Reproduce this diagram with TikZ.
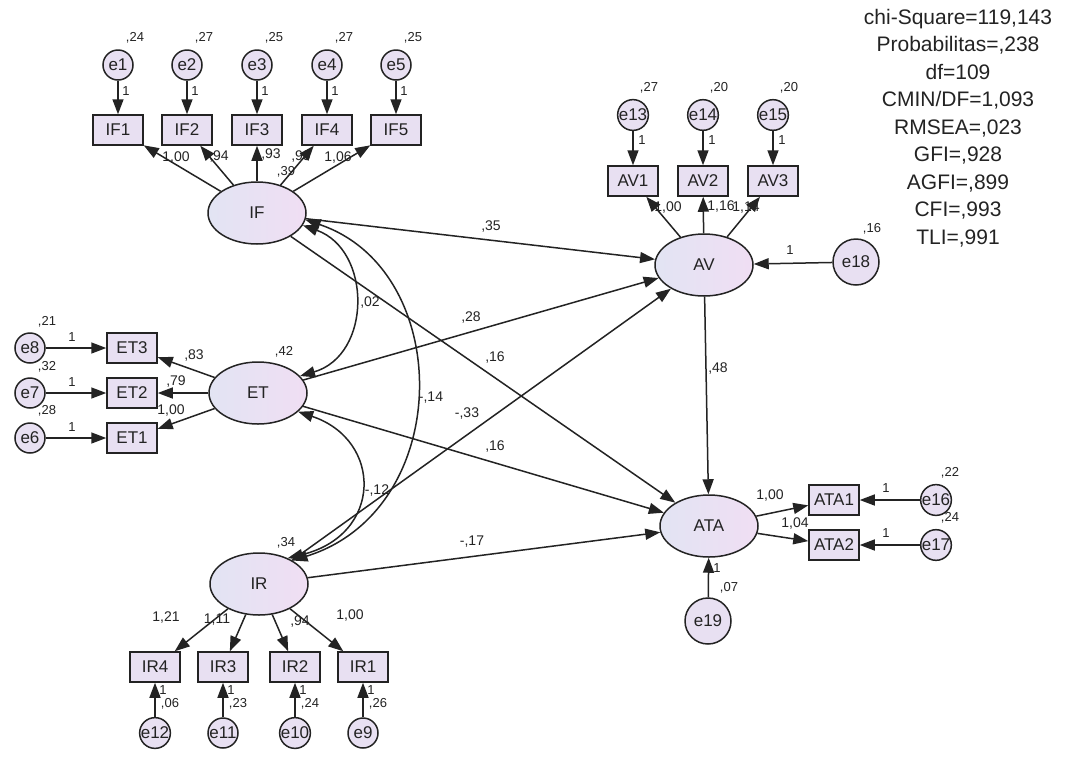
\documentclass[tikz,border=0pt]{standalone}
\usepackage{fontspec}
\setmainfont{Liberation Sans}
\usetikzlibrary{arrows.meta,shapes.geometric}
\definecolor{boxfill}{RGB}{232,224,242}
\definecolor{ellA}{RGB}{226,228,243}
\definecolor{ellB}{RGB}{240,222,243}
\definecolor{ink}{RGB}{35,35,35}
\begin{document}
\begin{tikzpicture}[x=1pt,y=-1pt,
  lat/.style={ellipse, draw=ink, line width=1.5pt, minimum width=98pt, minimum height=62pt, left color=ellA, right color=ellB, font=\fontsize{17}{17}\selectfont, text=ink, inner sep=0},
  obs/.style={rectangle, draw=ink, line width=1.5pt, fill=boxfill, minimum width=50pt, minimum height=30pt, inner sep=0, font=\fontsize{17}{17}\selectfont, text=ink},
  err/.style={circle, draw=ink, line width=1.5pt, fill=boxfill, minimum size=30pt, inner sep=0, font=\fontsize{17}{17}\selectfont, text=ink},
  bigerr/.style={err, minimum size=46pt},
  arr/.style={draw=ink, line width=1.5pt, -{Triangle[length=15pt,width=11pt]}},
  cov/.style={draw=ink, line width=1.5pt, {Triangle[length=15pt,width=11pt]}-{Triangle[length=15pt,width=11pt]}},
  lbl/.style={font=\fontsize{13}{13}\selectfont, text=ink, inner sep=0},
  plbl/.style={font=\fontsize{14}{14}\selectfont, text=ink, inner sep=0},
]
\fill[white] (0,0) rectangle (1068,756);
\useasboundingbox (0,0) rectangle (1068,756);

% latent variables
\node[lat] (IF) at (257,213) {IF};
\node[lat] (ET) at (258,393) {ET};
\node[lat] (IR) at (259,584) {IR};
\node[lat] (AV) at (704,265) {AV};
\node[lat] (ATA) at (709,526) {ATA};

% IF indicators
\foreach \n/\x/\e/\v in {1/118/e1/{,24}, 2/187/e2/{,27}, 3/257/e3/{,25}, 4/327/e4/{,27}, 5/396/e5/{,25}}{
  \node[obs] (IF\n) at (\x,130) {IF\n};
  \node[err] (\e) at (\x,65) {\e};
  \node[lbl] (v\e) at (\x+17,38) {\v};
  \node[lbl] (o\e) at (\x+8,91) {1};
  \draw[arr] (\e) -- (IF\n);
  \draw[arr] (IF) -- (IF\n);
}
% AV indicators
\foreach \n/\x/\e/\v in {1/633/e13/{,27}, 2/703/e14/{,20}, 3/773/e15/{,20}}{
  \node[obs] (AV\n) at (\x,181) {AV\n};
  \node[err] (\e) at (\x,115) {\e};
  \node[lbl] (v\e) at (\x+16,88) {\v};
  \node[lbl] (o\e) at (\x+9,140) {1};
  \draw[arr] (\e) -- (AV\n);
  \draw[arr] (AV) -- (AV\n);
}
% ET indicators
\foreach \n/\y/\e/\v/\vy in {3/348/e8/{,21}/322, 2/393/e7/{,32}/367, 1/438/e6/{,28}/411}{
  \node[obs] (ET\n) at (132,\y) {ET\n};
  \node[err] (\e) at (30,\y) {\e};
  \node[lbl] (v\e) at (47,\vy) {\v};
  \node[lbl] (o\e) at (72,\y-11) {1};
  \draw[arr] (\e) -- (ET\n);
  \draw[arr] (ET) -- (ET\n);
}
% IR indicators
\foreach \n/\x/\e/\v in {4/155/e12/{,06}, 3/223/e11/{,23}, 2/295/e10/{,24}, 1/363/e9/{,26}}{
  \node[obs] (IR\n) at (\x,667) {IR\n};
  \node[err] (\e) at (\x,733) {\e};
  \node[lbl] (v\e) at (\x+15,704) {\v};
  \node[lbl] (o\e) at (\x+8,690) {1};
  \draw[arr] (\e) -- (IR\n);
  \draw[arr] (IR) -- (IR\n);
}
% ATA indicators
\foreach \n/\y/\e/\v in {1/500/e16/{,22}, 2/545/e17/{,24}}{
  \node[obs] (ATA\n) at (834,\y) {ATA\n};
  \node[err] (\e) at (936,\y) {\e};
  \node[lbl] (v\e) at (950,\y-27) {\v};
  \node[lbl] (o\e) at (886,\y-12) {1};
  \draw[arr] (\e) -- (ATA\n);
  \draw[arr] (ATA) -- (ATA\n);
}
% disturbances
\node[bigerr] (e18) at (856,262) {e18};
\node[bigerr] (e19) at (708,621) {e19};
\draw[arr] (e18) -- (AV);
\draw[arr] (e19) -- (ATA);

% structural paths
\draw[arr] (IF) -- (AV);
\draw[arr] (ET) -- (AV);
\draw[arr] (IR) -- (AV);
\draw[arr] (IF) -- (ATA);
\draw[arr] (ET) -- (ATA);
\draw[arr] (IR) -- (ATA);
\draw[arr] (AV) -- (ATA);

% covariances
\draw[cov] (IF.-15) .. controls (372,250) and (372,355) .. (ET.22);
\draw[cov] (IF.-8) .. controls (455,270) and (455,510) .. (IR.35);
\draw[cov] (ET.-25) .. controls (383,440) and (383,535) .. (IR.42);

% loadings and estimates
\node[plbl] (lIF1) at (176,158) {1,00};
\node[plbl] (lIF2) at (219,157) {,94};
\node[plbl] (lIF3) at (271,155) {,93};
\node[plbl] (lIF4) at (301,157) {,99};
\node[plbl] (lIF5) at (338,158) {1,06};
\node[lbl] (vIF) at (286,172) {,39};
\node[plbl] (lAV1) at (668,208) {1,00};
\node[plbl] (lAV2) at (721,207) {1,16};
\node[plbl] (lAV3) at (746,208) {1,14};
\node[lbl] (ve18) at (872,229) {,16};
\node[lbl] (oe18) at (790,250) {1};
\node[plbl] (lET3) at (194,355) {,83};
\node[plbl] (lET2) at (176,381) {,79};
\node[plbl] (lET1) at (171,410) {1,00};
\node[lbl] (vET) at (284,352) {,42};
\node[plbl] (lIR4) at (166,617) {1,21};
\node[plbl] (lIR3) at (217,620) {1,11};
\node[plbl] (lIR2) at (300,621) {,94};
\node[plbl] (lIR1) at (350,615) {1,00};
\node[lbl] (vIR) at (286,543) {,34};
\node[plbl] (lATA1) at (770,495) {1,00};
\node[plbl] (lATA2) at (795,523) {1,04};
\node[lbl] (ve19) at (729,588) {,07};
\node[lbl] (oe19) at (717,568) {1};
\node[plbl] (pIFAV) at (491,227) {,35};
\node[plbl] (cIFET) at (370,303) {,02};
\node[plbl] (pETAV) at (471,317) {,28};
\node[plbl] (pIFATA) at (495,357) {,16};
\node[plbl] (cIFIR) at (431,398) {-,14};
\node[plbl] (pIRAV) at (467,413) {-,33};
\node[plbl] (pETATA) at (495,446) {,16};
\node[plbl] (cETIR) at (377,490) {-,12};
\node[plbl] (pIRATA) at (472,542) {-,17};
\node[plbl] (pAVATA) at (718,368) {,48};

% fit statistics
\node[align=center, anchor=north, inner sep=0, text=ink, font=\fontsize{21}{27.5}\selectfont] (fit) at (958,9)
 {chi-Square=119,143\\Probabilitas=,238\\df=109\\CMIN/DF=1,093\\RMSEA=,023\\GFI=,928\\AGFI=,899\\CFI=,993\\TLI=,991};
\end{tikzpicture}
\end{document}
